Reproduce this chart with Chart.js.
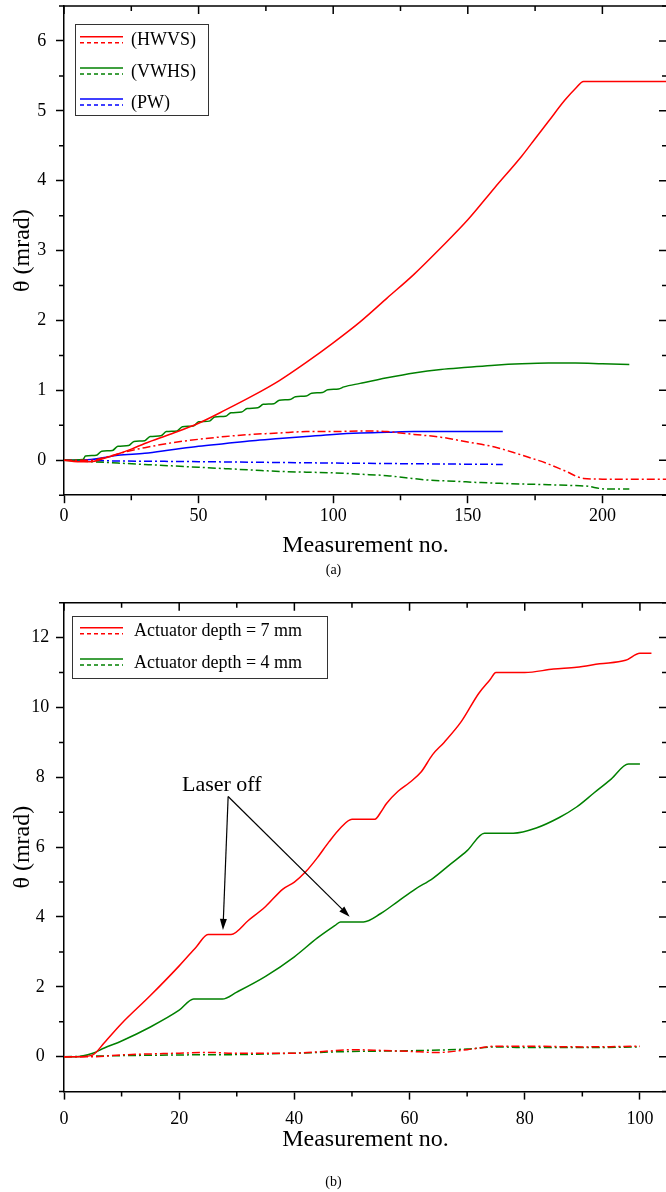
<!DOCTYPE html>
<html lang="en">
<head>
  <meta charset="UTF-8" />
  <title>Tilt angle vs measurement no.</title>
  <script src="https://cdn.jsdelivr.net/npm/chart.js"></script>
  <style>
    html, body {
      margin: 0;
      padding: 0;
      background: #fff;
      overflow: hidden;
    }
    .panel {
      position: relative;
      width: 672px;
    }
    #panelA { height: 590px; }
    #panelB { height: 602px; }
  </style>
</head>
<body>

<div class="panel" id="panelA"><canvas id="chartA"></canvas></div>
<div class="panel" id="panelB"><canvas id="chartB"></canvas></div>

<script>
  // ---- panel (a) data ----
  const seriesA = ['(HWVS)', '(VWHS)', '(PW)'];
  const colorsA = ['#ff0000', '#008000', '#0000ff'];
  const xTicksA = [0, 50, 100, 150, 200];
  const yTicksA = [0, 1, 2, 3, 4, 5, 6];

  const hwvsSolidX = [0, 5, 10, 15, 20, 25, 30, 40, 50, 60, 70, 80, 90, 100, 110, 120, 130, 140, 150, 160, 170, 175, 180, 186, 190, 193, 200, 210, 224];
  const hwvsSolidY = [0, -0.02, -0.02, 0.03, 0.09, 0.16, 0.24, 0.38, 0.53, 0.72, 0.92, 1.14, 1.4, 1.68, 1.98, 2.32, 2.66, 3.04, 3.44, 3.9, 4.35, 4.6, 4.85, 5.15, 5.32, 5.42, 5.42, 5.42, 5.42];
  const hwvsDashX = [0, 10, 15, 20, 25, 30, 40, 50, 60, 70, 80, 90, 100, 110, 120, 125, 130, 140, 150, 160, 167, 172, 179, 186, 193, 200, 210, 224];
  const hwvsDashY = [0, 0, 0.04, 0.09, 0.14, 0.18, 0.25, 0.3, 0.34, 0.37, 0.39, 0.41, 0.41, 0.42, 0.41, 0.39, 0.37, 0.33, 0.26, 0.19, 0.11, 0.05, -0.04, -0.15, -0.26, -0.27, -0.27, -0.27];

  const vwhsSolidX = [0, 7, 8, 12, 14, 18, 20, 24, 26, 30, 32, 36, 38, 42, 44, 48, 50, 54, 56, 60, 62, 66, 68, 72, 74, 78, 80, 84, 86, 90, 92, 96, 98, 102, 104, 110, 120, 130, 140, 150, 160, 170, 180, 190, 200, 210];
  const vwhsSolidY = [0, 0.01, 0.06, 0.07, 0.13, 0.14, 0.2, 0.21, 0.27, 0.28, 0.34, 0.35, 0.41, 0.42, 0.48, 0.49, 0.55, 0.56, 0.62, 0.63, 0.68, 0.69, 0.74, 0.75, 0.8, 0.81, 0.86, 0.87, 0.91, 0.92, 0.96, 0.97, 1.01, 1.02, 1.05, 1.1, 1.18, 1.25, 1.3, 1.33, 1.36, 1.38, 1.39, 1.39, 1.38, 1.37];
  const vwhsDashX = [0, 10, 20, 30, 40, 50, 60, 70, 80, 90, 100, 110, 120, 127, 134, 145, 155, 162, 170, 180, 188, 194, 201, 210];
  const vwhsDashY = [0, -0.02, -0.04, -0.06, -0.08, -0.1, -0.12, -0.14, -0.16, -0.17, -0.18, -0.2, -0.22, -0.25, -0.28, -0.3, -0.32, -0.33, -0.34, -0.35, -0.36, -0.37, -0.41, -0.41];

  const pwSolidX = [0, 10, 15, 20, 30, 40, 50, 60, 70, 80, 90, 100, 110, 120, 130, 140, 150, 163];
  const pwSolidY = [0, 0.01, 0.04, 0.07, 0.1, 0.15, 0.2, 0.24, 0.28, 0.31, 0.34, 0.37, 0.39, 0.4, 0.41, 0.41, 0.41, 0.41];
  const pwDashX = [0, 20, 50, 100, 130, 163];
  const pwDashY = [0, -0.01, -0.02, -0.04, -0.05, -0.06];

  // ---- panel (b) data ----
  const seriesB = ['Actuator depth = 7 mm', 'Actuator depth = 4 mm'];
  const colorsB = ['#ff0000', '#008000'];
  const xTicksB = [0, 20, 40, 60, 80, 100];
  const yTicksB = [0, 2, 4, 6, 8, 10, 12];

  const d7SolidX = [0, 3, 5, 7, 10, 15, 20, 23, 25, 29, 32, 35, 38, 40, 42, 44, 46, 48, 50, 54, 55, 56, 58, 60, 62, 64, 66, 69, 72, 74, 75, 80, 85, 89, 93, 97.5, 100, 102];
  const d7SolidY = [0, 0, 0.05, 0.4, 0.95, 1.75, 2.6, 3.15, 3.5, 3.5, 3.9, 4.3, 4.8, 5.0, 5.3, 5.7, 6.15, 6.55, 6.8, 6.8, 7.0, 7.25, 7.6, 7.85, 8.15, 8.65, 9.0, 9.6, 10.4, 10.8, 11.0, 11.0, 11.1, 11.15, 11.25, 11.35, 11.55, 11.55];
  const d7DashX = [0, 5, 10, 20, 25, 30, 40, 45, 50, 55, 60, 65, 70, 75, 80, 90, 100];
  const d7DashY = [0, 0, 0.05, 0.1, 0.12, 0.1, 0.1, 0.15, 0.2, 0.18, 0.15, 0.12, 0.2, 0.3, 0.3, 0.28, 0.3];

  const d4SolidX = [0, 2, 5, 7, 10, 15, 20, 22.5, 27.5, 30, 35, 40, 44, 47, 48, 52, 55, 58, 61, 64, 67, 70, 73, 78, 82, 86, 89, 92, 95, 98, 100];
  const d4SolidY = [0, 0, 0.1, 0.25, 0.45, 0.85, 1.33, 1.65, 1.65, 1.85, 2.3, 2.86, 3.4, 3.75, 3.86, 3.86, 4.1, 4.45, 4.8, 5.1, 5.5, 5.9, 6.4, 6.4, 6.55, 6.85, 7.15, 7.55, 7.95, 8.38, 8.38];
  const d4DashX = [0, 10, 20, 30, 40, 50, 60, 70, 75, 80, 90, 100];
  const d4DashY = [0, 0.03, 0.05, 0.06, 0.1, 0.15, 0.17, 0.22, 0.28, 0.26, 0.26, 0.28];

  // "Laser off" note: text position, arrow origin, arrow tips (data units)
  const noteText = 'Laser off';
  const noteAt = [27.4, 7.78];
  const noteFrom = [28.5, 7.45];
  const noteTips = [[27.6, 3.63], [49.6, 4.01]];

  const serif = '"Liberation Serif", "Times New Roman", serif';
  Chart.defaults.font.family = serif;
  Chart.defaults.color = '#000';

  const pts = (xs, ys) => xs.map((x, i) => ({ x, y: ys[i] }));
  const dashDot = [8, 3, 2, 3];

  function line(label, color, xs, ys, dashed) {
    return {
      label,
      data: pts(xs, ys),
      borderColor: color,
      backgroundColor: color,
      borderWidth: 1.5,
      borderDash: dashed ? dashDot : [],
      pointRadius: 0,
      cubicInterpolationMode: 'monotone',
      fill: false
    };
  }

  // frame: top/right axis lines, inward mirror ticks, outward minor ticks
  const frame = {
    id: 'frame',
    afterDraw(chart, args, o) {
      const { ctx, chartArea: a, scales: { x, y } } = chart;
      const isMajor = (v, step) => Math.abs(v / step - Math.round(v / step)) < 1e-6;
      ctx.save();
      ctx.strokeStyle = '#000';
      ctx.lineWidth = 1.5;
      ctx.beginPath();
      ctx.moveTo(a.left, a.top);
      ctx.lineTo(a.right, a.top);
      ctx.lineTo(a.right, a.bottom);
      ctx.stroke();
      ctx.beginPath();
      for (let v = 0; v <= x.max + 1e-6; v += o.xMinor) {
        const px = x.getPixelForValue(v);
        const major = isMajor(v, o.xMajor);
        ctx.moveTo(px, a.top);
        ctx.lineTo(px, a.top + (major ? 8 : 5));
        if (!major) {
          ctx.moveTo(px, a.bottom);
          ctx.lineTo(px, a.bottom + 5);
        }
      }
      const y0 = Math.ceil(y.min / o.yMinor) * o.yMinor;
      for (let v = y0; v <= y.max + 1e-6; v += o.yMinor) {
        const py = y.getPixelForValue(v);
        const major = isMajor(v, o.yMajor);
        ctx.moveTo(a.right, py);
        ctx.lineTo(a.right - (major ? 8 : 5), py);
        if (!major) {
          ctx.moveTo(a.left, py);
          ctx.lineTo(a.left - 5, py);
        }
      }
      ctx.stroke();
      ctx.restore();
    }
  };

  // boxed legend with a solid and a dotted sample per entry
  const boxLegend = {
    id: 'boxLegend',
    afterDraw(chart, args, o) {
      if (!o.labels) return;
      const ctx = chart.ctx;
      ctx.save();
      ctx.fillStyle = '#fff';
      ctx.fillRect(o.left, o.top, o.width, o.height);
      ctx.strokeStyle = '#333';
      ctx.lineWidth = 1;
      ctx.strokeRect(o.left + 0.5, o.top + 0.5, o.width, o.height);
      ctx.font = '18px ' + serif;
      ctx.textBaseline = 'middle';
      o.labels.forEach((label, i) => {
        const ry = o.firstRow + i * o.rowGap;
        ctx.strokeStyle = o.colors[i];
        ctx.lineWidth = 1.5;
        ctx.setLineDash([]);
        ctx.beginPath();
        ctx.moveTo(o.sampleX[0], ry);
        ctx.lineTo(o.sampleX[1], ry);
        ctx.stroke();
        ctx.setLineDash([4, 3]);
        ctx.beginPath();
        ctx.moveTo(o.sampleX[0], ry + 6);
        ctx.lineTo(o.sampleX[1], ry + 6);
        ctx.stroke();
        ctx.setLineDash([]);
        ctx.fillStyle = '#000';
        ctx.fillText(label, o.textX, ry + 4);
      });
      ctx.restore();
    }
  };

  // text with arrows
  const laserNote = {
    id: 'laserNote',
    afterDatasetsDraw(chart, args, o) {
      if (!o.text) return;
      const { ctx, scales: { x, y } } = chart;
      const sx = x.getPixelForValue(o.from[0]);
      const sy = y.getPixelForValue(o.from[1]);
      ctx.save();
      ctx.fillStyle = '#000';
      ctx.strokeStyle = '#000';
      ctx.lineWidth = 1.2;
      ctx.font = '22px ' + serif;
      ctx.textAlign = 'center';
      ctx.textBaseline = 'middle';
      ctx.fillText(o.text, x.getPixelForValue(o.at[0]), y.getPixelForValue(o.at[1]));
      o.tips.forEach(([tx, ty]) => {
        const ex = x.getPixelForValue(tx);
        const ey = y.getPixelForValue(ty);
        const ang = Math.atan2(ey - sy, ex - sx);
        const hl = 11, hw = 3.5;
        const bx = ex - hl * Math.cos(ang), by = ey - hl * Math.sin(ang);
        ctx.beginPath();
        ctx.moveTo(sx, sy);
        ctx.lineTo(bx, by);
        ctx.stroke();
        ctx.beginPath();
        ctx.moveTo(ex, ey);
        ctx.lineTo(bx + hw * Math.sin(ang), by - hw * Math.cos(ang));
        ctx.lineTo(bx - hw * Math.sin(ang), by + hw * Math.cos(ang));
        ctx.closePath();
        ctx.fill();
      });
      ctx.restore();
    }
  };

  function axes(cfg) {
    const tickFont = { family: serif, size: 18 };
    const titleFont = { family: serif, size: 24 };
    return {
      x: {
        type: 'linear',
        min: 0,
        max: cfg.xMax,
        ticks: { font: tickFont, color: '#000', padding: cfg.xPad, maxRotation: 0, autoSkip: false },
        grid: { drawOnChartArea: false, tickLength: 8, tickColor: '#000', tickWidth: 1.5 },
        border: { color: '#000', width: 1.5 },
        title: { display: true, text: 'Measurement no.', font: titleFont, color: '#000', padding: { top: 0, bottom: cfg.xTitlePad } },
        afterBuildTicks: s => { s.ticks = cfg.xTicks.map(v => ({ value: v })); },
        afterFit: s => { s.height = cfg.xHeight; s.paddingLeft = 0; s.paddingRight = 0; }
      },
      y: {
        min: cfg.yMin,
        max: cfg.yMax,
        ticks: { font: tickFont, color: '#000', padding: cfg.yPad, autoSkip: false, crossAlign: 'center' },
        grid: { drawOnChartArea: false, tickLength: 8, tickColor: '#000', tickWidth: 1.5 },
        border: { color: '#000', width: 1.5 },
        title: { display: true, text: 'θ (mrad)', font: titleFont, color: '#000', padding: { top: 8, bottom: 0 } },
        afterBuildTicks: s => { s.ticks = cfg.yTicks.map(v => ({ value: v })); },
        afterFit: s => { s.width = 64; s.paddingTop = 0; s.paddingBottom = 0; }
      }
    };
  }

  new Chart(document.getElementById('chartA'), {
    type: 'line',
    data: {
      datasets: [
        line(seriesA[0], colorsA[0], hwvsSolidX, hwvsSolidY, false),
        line(seriesA[0], colorsA[0], hwvsDashX, hwvsDashY, true),
        line(seriesA[1], colorsA[1], vwhsSolidX, vwhsSolidY, false),
        line(seriesA[1], colorsA[1], vwhsDashX, vwhsDashY, true),
        line(seriesA[2], colorsA[2], pwSolidX, pwSolidY, false),
        line(seriesA[2], colorsA[2], pwDashX, pwDashY, true)
      ]
    },
    options: {
      responsive: true,
      maintainAspectRatio: false,
      animation: false,
      layout: { padding: { top: 6, right: 5, left: 0, bottom: 0 } },
      scales: axes({ xMax: 224, xTicks: xTicksA, xPad: 2, xTitlePad: 2, xHeight: 67, yMin: -0.5, yMax: 6.5, yTicks: yTicksA, yPad: 9.8 }),
      plugins: {
        legend: { display: false },
        tooltip: { enabled: false },
        subtitle: { display: true, text: '(a)', position: 'bottom', font: { family: serif, size: 14 }, color: '#000', padding: { top: 0, bottom: 11 } },
        frame: { xMinor: 25, xMajor: 50, yMinor: 0.5, yMajor: 1 },
        boxLegend: { labels: seriesA, colors: colorsA, left: 75, top: 24, width: 133, height: 91, firstRow: 36.7, rowGap: 31.2, sampleX: [80, 123], textX: 131 }
      }
    },
    plugins: [frame, boxLegend]
  });

  new Chart(document.getElementById('chartB'), {
    type: 'line',
    data: {
      datasets: [
        line(seriesB[0], colorsB[0], d7SolidX, d7SolidY, false),
        line(seriesB[0], colorsB[0], d7DashX, d7DashY, true),
        line(seriesB[1], colorsB[1], d4SolidX, d4SolidY, false),
        line(seriesB[1], colorsB[1], d4DashX, d4DashY, true)
      ]
    },
    options: {
      responsive: true,
      maintainAspectRatio: false,
      animation: false,
      layout: { padding: { top: 12.7, right: 5, left: 0, bottom: 0 } },
      scales: axes({ xMax: 104.7, xTicks: xTicksB, xPad: 9, xTitlePad: 19, xHeight: 82, yMin: -1, yMax: 13, yTicks: yTicksB, yPad: 6.7 }),
      plugins: {
        legend: { display: false },
        tooltip: { enabled: false },
        subtitle: { display: true, text: '(b)', position: 'bottom', font: { family: serif, size: 14 }, color: '#000', padding: { top: 0, bottom: 1.6 } },
        frame: { xMinor: 10, xMajor: 20, yMinor: 1, yMajor: 2 },
        boxLegend: { labels: seriesB, colors: colorsB, left: 72, top: 26, width: 255, height: 62, firstRow: 37.7, rowGap: 31.3, sampleX: [80, 123], textX: 134 },
        laserNote: { text: noteText, at: noteAt, from: noteFrom, tips: noteTips }
      }
    },
    plugins: [frame, boxLegend, laserNote]
  });
</script>

</body>
</html>
